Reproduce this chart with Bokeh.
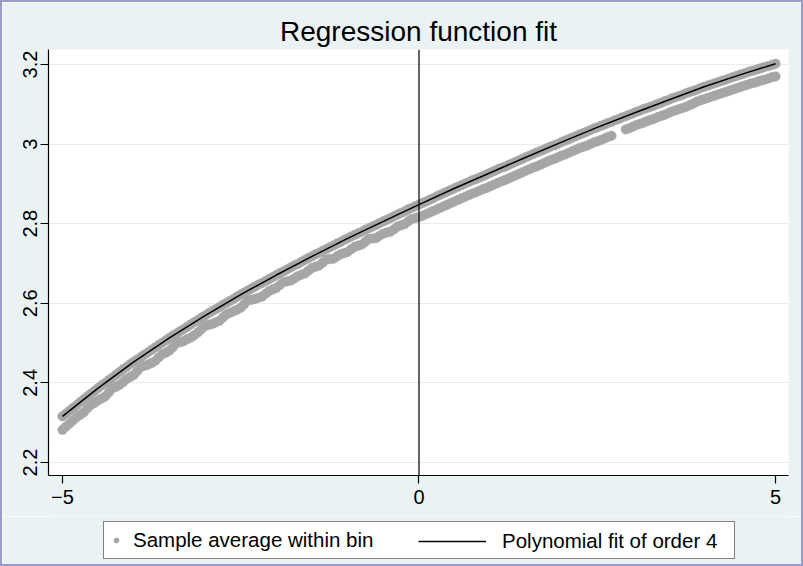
from bokeh.plotting import figure
from bokeh.layouts import column
from bokeh.models import (Range1d, FixedTicker, Span, Legend, LegendItem,
                          ColumnDataSource, CustomJSTickFormatter)
from bokeh.embed import file_html
from bokeh.resources import INLINE

# ---------------- data ----------------
title_text = "Regression function fit"
series_names = ["Sample average within bin", "Polynomial fit of order 4"]
x_ticks = [-5, 0, 5]
y_ticks = [2.2, 2.4, 2.6, 2.8, 3.0, 3.2]

# bin averages, upper group (bins at 0.1 steps)
upper_x = [-5.0, -4.9, -4.8, -4.7, -4.6, -4.5, -4.4, -4.3, -4.2, -4.1,
           -4.0, -3.9, -3.8, -3.7, -3.6, -3.5, -3.4, -3.3, -3.2, -3.1,
           -3.0, -2.9, -2.8, -2.7, -2.6, -2.5, -2.4, -2.3, -2.2, -2.1,
           -2.0, -1.9, -1.8, -1.7, -1.6, -1.5, -1.4, -1.3, -1.2, -1.1,
           -1.0, -0.9, -0.8, -0.7, -0.6, -0.5, -0.4, -0.3, -0.2, -0.1,
           0.0, 0.1, 0.2, 0.3, 0.4, 0.5, 0.6, 0.7, 0.8, 0.9,
           1.0, 1.1, 1.2, 1.3, 1.4, 1.5, 1.6, 1.7, 1.8, 1.9,
           2.0, 2.1, 2.2, 2.3, 2.4, 2.5, 2.6, 2.7, 2.8, 2.9,
           3.0, 3.1, 3.2, 3.3, 3.4, 3.5, 3.6, 3.7, 3.8, 3.9,
           4.0, 4.1, 4.2, 4.3, 4.4, 4.5, 4.6, 4.7, 4.8, 4.9,
           5.0]
upper_y = [2.316, 2.330, 2.344, 2.359, 2.373, 2.387, 2.400, 2.413, 2.427, 2.440,
           2.453, 2.465, 2.477, 2.489, 2.501, 2.513, 2.524, 2.535, 2.547, 2.558,
           2.569, 2.580, 2.590, 2.601, 2.611, 2.622, 2.632, 2.642, 2.651, 2.661,
           2.671, 2.680, 2.690, 2.699, 2.709, 2.718, 2.727, 2.736, 2.745, 2.754,
           2.763, 2.772, 2.780, 2.789, 2.797, 2.806, 2.814, 2.823, 2.831, 2.840,
           2.848, 2.856, 2.864, 2.873, 2.881, 2.889, 2.897, 2.905, 2.912, 2.920,
           2.928, 2.936, 2.943, 2.951, 2.959, 2.967, 2.975, 2.982, 2.990, 2.997,
           3.005, 3.012, 3.020, 3.027, 3.035, 3.042, 3.049, 3.056, 3.063, 3.070,
           3.077, 3.084, 3.091, 3.097, 3.104, 3.111, 3.118, 3.124, 3.131, 3.137,
           3.144, 3.150, 3.156, 3.162, 3.168, 3.174, 3.180, 3.185, 3.191, 3.196,
           3.202]
# upper group, bins in between
upper_x_mid = [-4.95, -4.85, -4.75, -4.65, -4.55, -4.45, -4.35, -4.25, -4.15, -4.05,
               -3.95, -3.85, -3.75, -3.65, -3.55, -3.45, -3.35, -3.25, -3.15, -3.05,
               -2.95, -2.85, -2.75, -2.65, -2.55, -2.45, -2.35, -2.25, -2.15, -2.05,
               -1.95, -1.85, -1.75, -1.65, -1.55, -1.45, -1.35, -1.25, -1.15, -1.05,
               -0.95, -0.85, -0.75, -0.65, -0.55, -0.45, -0.35, -0.25, -0.15, -0.05,
               0.05, 0.15, 0.25, 0.35, 0.45, 0.55, 0.65, 0.75, 0.85, 0.95,
               1.05, 1.15, 1.25, 1.35, 1.45, 1.55, 1.65, 1.75, 1.85, 1.95,
               2.05, 2.15, 2.25, 2.35, 2.45, 2.55, 2.65, 2.75, 2.85, 2.95,
               3.05, 3.15, 3.25, 3.35, 3.45, 3.55, 3.65, 3.75, 3.85, 3.95,
               4.05, 4.15, 4.25, 4.35, 4.45, 4.55, 4.65, 4.75, 4.85, 4.95]
upper_y_mid = [2.323, 2.337, 2.352, 2.366, 2.380, 2.394, 2.407, 2.420, 2.434, 2.447,
               2.459, 2.471, 2.483, 2.495, 2.507, 2.519, 2.530, 2.541, 2.553, 2.564,
               2.575, 2.585, 2.596, 2.606, 2.617, 2.627, 2.637, 2.647, 2.656, 2.666,
               2.676, 2.685, 2.695, 2.704, 2.714, 2.723, 2.732, 2.741, 2.750, 2.759,
               2.768, 2.776, 2.785, 2.793, 2.802, 2.810, 2.819, 2.827, 2.836, 2.844,
               2.852, 2.860, 2.869, 2.877, 2.885, 2.893, 2.901, 2.909, 2.916, 2.924,
               2.932, 2.940, 2.947, 2.955, 2.963, 2.971, 2.979, 2.986, 2.994, 3.001,
               3.009, 3.016, 3.024, 3.031, 3.039, 3.046, 3.053, 3.060, 3.067, 3.074,
               3.081, 3.088, 3.094, 3.101, 3.108, 3.115, 3.121, 3.128, 3.134, 3.141,
               3.147, 3.153, 3.159, 3.165, 3.171, 3.177, 3.183, 3.188, 3.194, 3.199]

# bin averages, lower group
lower_x = [-5.0, -4.9, -4.8, -4.7, -4.6, -4.5, -4.4, -4.3, -4.2, -4.1,
           -4.0, -3.9, -3.8, -3.7, -3.6, -3.5, -3.4, -3.3, -3.2, -3.1,
           -3.0, -2.9, -2.8, -2.7, -2.6, -2.5, -2.4, -2.3, -2.2, -2.1,
           -2.0, -1.9, -1.8, -1.7, -1.6, -1.5, -1.4, -1.3, -1.2, -1.1,
           -1.0, -0.9, -0.8, -0.7, -0.6, -0.5, -0.4, -0.3, -0.2, -0.1,
           0.0, 0.1, 0.2, 0.3, 0.4, 0.5, 0.6, 0.7, 0.8, 0.9,
           1.0, 1.1, 1.2, 1.3, 1.4, 1.5, 1.6, 1.7, 1.8, 1.9,
           2.0, 2.1, 2.2, 2.3, 2.4, 2.5, 2.6, 2.7,
           2.9, 3.0, 3.1, 3.2, 3.3, 3.4, 3.5, 3.6, 3.7, 3.8,
           3.9, 4.0, 4.1, 4.2, 4.3, 4.4, 4.5, 4.6, 4.7, 4.8, 4.9, 5.0]
lower_y = [2.282, 2.298, 2.314, 2.326, 2.345, 2.356, 2.366, 2.386, 2.395, 2.410,
           2.420, 2.440, 2.446, 2.455, 2.472, 2.481, 2.500, 2.505, 2.514, 2.527,
           2.543, 2.548, 2.556, 2.572, 2.580, 2.589, 2.607, 2.611, 2.617, 2.631,
           2.639, 2.653, 2.657, 2.668, 2.675, 2.689, 2.695, 2.710, 2.712, 2.723,
           2.729, 2.742, 2.748, 2.762, 2.764, 2.775, 2.780, 2.793, 2.799, 2.812,
           2.817, 2.824, 2.832, 2.840, 2.848, 2.856, 2.864, 2.872, 2.879, 2.887,
           2.894, 2.902, 2.909, 2.917, 2.925, 2.933, 2.941, 2.948, 2.956, 2.963,
           2.971, 2.978, 2.986, 2.993, 3.000, 3.007, 3.014, 3.021,
           3.037, 3.044, 3.051, 3.058, 3.064, 3.071, 3.078, 3.085, 3.091, 3.098,
           3.107, 3.113, 3.119, 3.125, 3.131, 3.137, 3.143, 3.149, 3.154, 3.160, 3.165, 3.170]
lower_x_mid = [-4.95, -4.85, -4.75, -4.65, -4.55, -4.45, -4.35, -4.25, -4.15, -4.05,
               -3.95, -3.85, -3.75, -3.65, -3.55, -3.45, -3.35, -3.25, -3.15, -3.05,
               -2.95, -2.85, -2.75, -2.65, -2.55, -2.45, -2.35, -2.25, -2.15, -2.05,
               -1.95, -1.85, -1.75, -1.65, -1.55, -1.45, -1.35, -1.25, -1.15, -1.05,
               -0.95, -0.85, -0.75, -0.65, -0.55, -0.45, -0.35, -0.25, -0.15, -0.05,
               0.05, 0.15, 0.25, 0.35, 0.45, 0.55, 0.65, 0.75, 0.85, 0.95,
               1.05, 1.15, 1.25, 1.35, 1.45, 1.55, 1.65, 1.75, 1.85, 1.95,
               2.05, 2.15, 2.25, 2.35, 2.45, 2.55, 2.65,
               2.95, 3.05, 3.15, 3.25, 3.35, 3.45, 3.55, 3.65, 3.75, 3.85,
               3.95, 4.05, 4.15, 4.25, 4.35, 4.45, 4.55, 4.65, 4.75, 4.85, 4.95]
lower_y_mid = [2.290, 2.306, 2.320, 2.336, 2.350, 2.361, 2.376, 2.390, 2.402, 2.415,
               2.430, 2.443, 2.450, 2.464, 2.476, 2.490, 2.502, 2.510, 2.520, 2.535,
               2.546, 2.552, 2.564, 2.576, 2.584, 2.598, 2.609, 2.614, 2.624, 2.635,
               2.646, 2.655, 2.662, 2.672, 2.682, 2.692, 2.702, 2.711, 2.718, 2.726,
               2.736, 2.745, 2.755, 2.763, 2.770, 2.778, 2.786, 2.796, 2.806, 2.814,
               2.820, 2.828, 2.836, 2.844, 2.852, 2.860, 2.868, 2.876, 2.883, 2.890,
               2.898, 2.906, 2.913, 2.921, 2.929, 2.937, 2.944, 2.952, 2.960, 2.967,
               2.974, 2.982, 2.990, 2.996, 3.004, 3.010, 3.018,
               3.040, 3.048, 3.054, 3.061, 3.068, 3.074, 3.082, 3.088, 3.094, 3.102,
               3.110, 3.116, 3.122, 3.128, 3.134, 3.140, 3.146, 3.152, 3.157, 3.162, 3.168]

# polynomial fit of order 4
fit_x = [-5.0, -4.5, -4.0, -3.5, -3.0, -2.5, -2.0, -1.5, -1.0, -0.5, 0.0,
         0.5, 1.0, 1.5, 2.0, 2.5, 3.0, 3.5, 4.0, 4.5, 5.0]
fit_y = [2.316, 2.387, 2.453, 2.513, 2.569, 2.622, 2.671, 2.718, 2.763, 2.806, 2.848,
         2.889, 2.928, 2.967, 3.005, 3.042, 3.077, 3.111, 3.144, 3.174, 3.202]

# ---------------- styling ----------------
FONT = "Liberation Sans"
BG = "#eaf2f3"
DOT = "#a6a6a6"
W = 799
H_MAIN = 514
H_LEG = 48

fig = figure(width=W, height=H_MAIN, output_backend="svg", toolbar_location=None,
             title=title_text,
             x_range=Range1d(-5.196, 5.182), y_range=Range1d(2.1673, 3.2377),
             min_border_left=46, min_border_right=13, min_border_top=47, min_border_bottom=41)
fig.background_fill_color = "white"
fig.border_fill_color = BG
fig.outline_line_color = None
fig.title.align = "center"
fig.title.text_font = FONT
fig.title.text_font_size = "28px"
fig.title.text_font_style = "normal"
fig.title.text_color = "black"
fig.title.standoff = 5

src_bins = ColumnDataSource(dict(x=upper_x + upper_x_mid + lower_x + lower_x_mid,
                                 y=upper_y + upper_y_mid + lower_y + lower_y_mid))
r_bins = fig.scatter("x", "y", source=src_bins, size=9.5, marker="circle",
                     fill_color=DOT, line_color=DOT, line_width=0.5)
src_fit = ColumnDataSource(dict(x=fit_x, y=fit_y))
r_fit = fig.line("x", "y", source=src_fit, line_color="black", line_width=1.5)

fig.add_layout(Span(location=0, dimension="height", line_color="black", line_width=1.2))

fig.xaxis.ticker = FixedTicker(ticks=x_ticks)
fig.yaxis.ticker = FixedTicker(ticks=y_ticks)
fig.yaxis.formatter = CustomJSTickFormatter(code="return String(Math.round(tick*10)/10)")
for ax in (fig.xaxis[0], fig.yaxis[0]):
    ax.axis_line_color = "black"
    ax.axis_line_width = 1.2
    ax.major_tick_line_color = "black"
    ax.major_tick_line_width = 1.2
    ax.major_tick_out = 8
    ax.major_tick_in = 0
    ax.minor_tick_line_color = None
    ax.major_label_text_font = FONT
    ax.major_label_text_font_size = "20px"
    ax.major_label_text_color = "black"
fig.yaxis.major_label_orientation = "vertical"
fig.yaxis.major_label_standoff = 3
fig.xaxis.major_label_standoff = 6

fig.xgrid.visible = False
fig.ygrid.ticker = FixedTicker(ticks=y_ticks)
fig.ygrid.grid_line_color = "#e3eef2"
fig.ygrid.grid_line_width = 1

# ---------------- legend strip ----------------
# (in a column the strip's frame is aligned with the main frame, i.e. starts at x=46)
leg = figure(width=W, height=H_LEG, output_backend="svg", toolbar_location=None,
             x_axis_type=None, y_axis_type=None,
             x_range=Range1d(0, 1), y_range=Range1d(0, 1),
             min_border=0, min_border_left=46, min_border_right=13,
             min_border_top=0, min_border_bottom=0)
leg.grid.visible = False
leg.outline_line_color = None
leg.background_fill_color = BG
leg.border_fill_color = BG
# key renderers: one point each, placed outside the strip's visible range
k_bins = leg.scatter(x=[-10], y=[-10], size=9, marker="circle", fill_color=DOT, line_color=DOT)
k_fit = leg.line(x=[-10, -9], y=[-10, -10], line_color="black", line_width=1.5)

leg1 = Legend(items=[LegendItem(label=series_names[0], renderers=[k_bins])],
              location=(55, 5), orientation="horizontal",
              glyph_width=12, glyph_height=24, label_standoff=11, label_width=595,
              padding=6, spacing=0, margin=0,
              border_line_color="black", border_line_width=1,
              background_fill_color="white", background_fill_alpha=1,
              label_text_font=FONT, label_text_font_size="20.5px", label_text_color="black")
leg2 = Legend(items=[LegendItem(label=series_names[1], renderers=[k_fit])],
              location=(370, 11), orientation="horizontal",
              glyph_width=68, glyph_height=24, label_standoff=16, label_width=10,
              padding=0, spacing=0, margin=0,
              border_line_color=None, background_fill_alpha=0,
              label_text_font=FONT, label_text_font_size="20.5px", label_text_color="black")
leg.add_layout(leg1)
leg.add_layout(leg2)

p = column(fig, leg, spacing=0)
p.styles = {"border": "2px solid #9a9acd"}

open("out.html", "w").write(file_html(p, INLINE))
